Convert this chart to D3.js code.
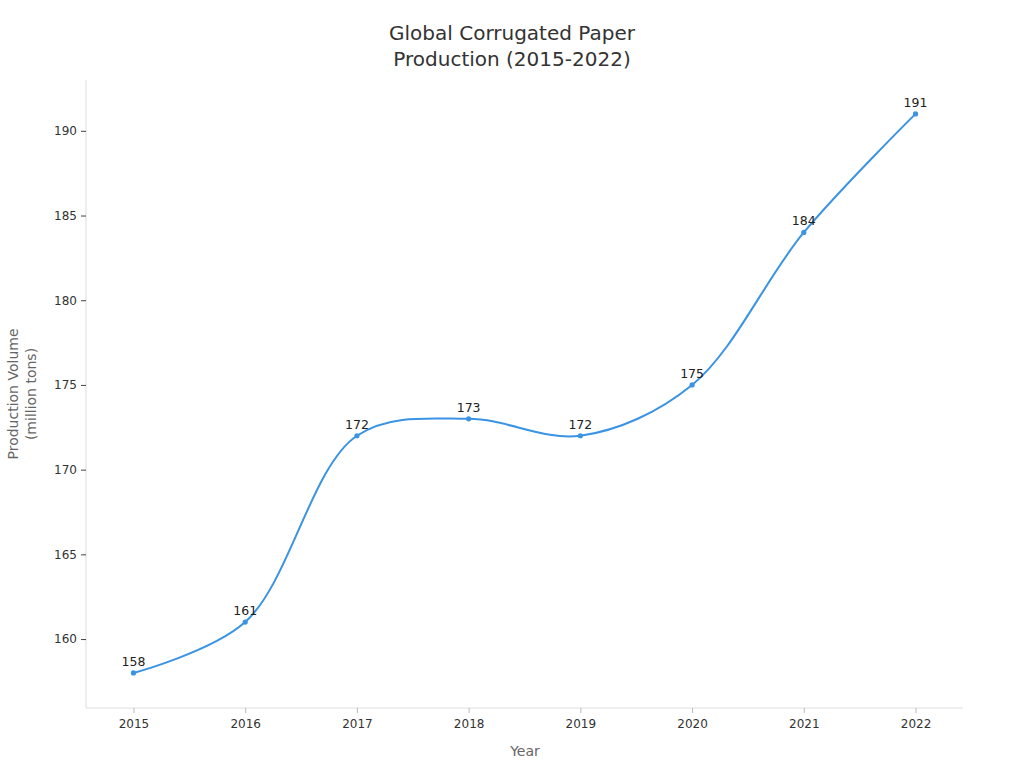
<!DOCTYPE html>
<html><head><meta charset="utf-8">
<script src="https://cdn.jsdelivr.net/npm/d3@7"></script>
<style>body{margin:0;background:#fff;font-family:"DejaVu Sans",sans-serif;}</style>
</head><body><svg id="c" width="1024" height="768"></svg>
<script>
const years = [2015, 2016, 2017, 2018, 2019, 2020, 2021, 2022];
const production = [158, 161, 172, 173, 172, 175, 184, 191];
const yTicks = [160, 165, 170, 175, 180, 185, 190];
const titleLines = ["Global Corrugated Paper", "Production (2015-2022)"];

const svg = d3.select("#c");
const m = {l: 86, r: 963, t: 80, b: 708};
const x = d3.scalePoint().domain(years).range([m.l, m.r]).padding(0.425);
const y = d3.scaleLinear().domain([155.93, 193.0]).range([m.b, m.t]);

svg.append("text").attr("x", 512).attr("text-anchor", "middle").attr("fill", "#333")
  .style("font-size", "20px")
  .selectAll("tspan").data(titleLines).join("tspan")
  .attr("x", 512).attr("y", (d, i) => 40 + i * 26).text(d => d);

const gx = svg.append("g").attr("transform", `translate(0,${m.b})`)
  .call(d3.axisBottom(x).tickSize(5).tickPadding(6).tickFormat(d3.format("d")));
const gy = svg.append("g").attr("transform", `translate(${m.l},0)`)
  .call(d3.axisLeft(y).tickValues(yTicks).tickSize(5).tickPadding(4));
[gx, gy].forEach(g => {
  g.select(".domain").attr("stroke", "#ddd");
  g.selectAll("text").attr("fill", "#333").style("font-size", "12px").style("font-family", "DejaVu Sans");
});
gx.selectAll(".tick line").attr("stroke", "#bbb");
gy.selectAll(".tick line").attr("stroke", "#444");
gy.select(".domain").attr("d", `M0,${m.t}V${m.b}`);
gx.select(".domain").attr("d", `M${m.l},0H${m.r}`);

svg.append("text").attr("x", 525).attr("y", 756).attr("text-anchor", "middle")
  .attr("fill", "#666").style("font-size", "14px").text("Year");
svg.append("text").attr("transform", "translate(18,394) rotate(-90)").attr("text-anchor", "middle")
  .attr("fill", "#666").style("font-size", "14px")
  .selectAll("tspan").data(["Production Volume", "(million tons)"]).join("tspan")
  .attr("x", 0).attr("dy", (d, i) => i ? 18 : 0).text(d => d);

const data = years.map((yr, i) => ({yr, v: production[i]}));
svg.append("path").datum(data).attr("fill", "none").attr("stroke", "#3a93e3").attr("stroke-width", 2)
  .attr("d", d3.line().x(d => x(d.yr)).y(d => y(d.v)).curve(d3.curveCatmullRom));
svg.selectAll("circle.pt").data(data).join("circle").attr("class", "pt")
  .attr("cx", d => x(d.yr)).attr("cy", d => y(d.v)).attr("r", 2.6).attr("fill", "#3a93e3");
svg.selectAll("text.lbl").data(data).join("text").attr("class", "lbl")
  .attr("x", d => x(d.yr)).attr("y", d => y(d.v) - 7).attr("text-anchor", "middle")
  .attr("fill", "#222").style("font-size", "12.5px").text(d => d.v);
</script></body></html>
